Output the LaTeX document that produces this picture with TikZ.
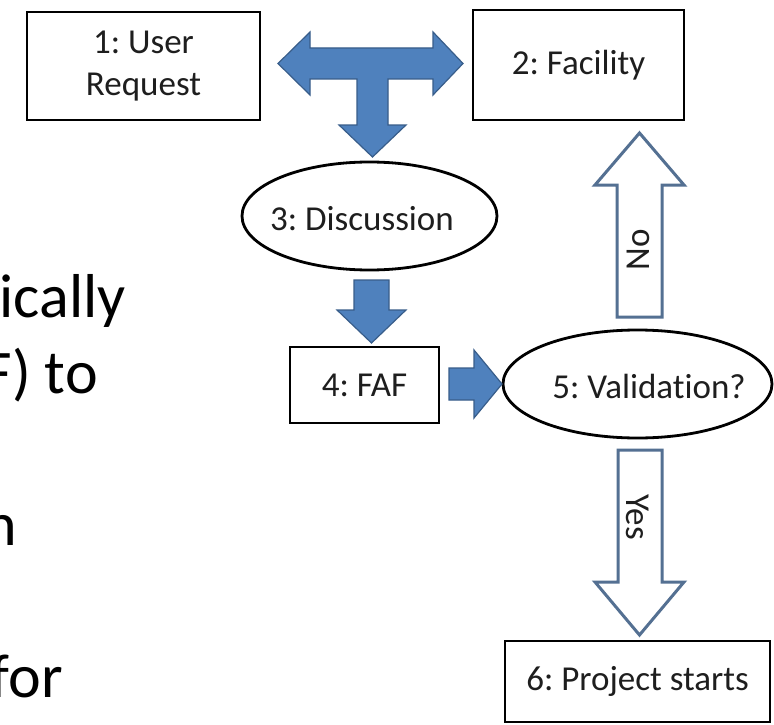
\documentclass[tikz,border=0pt]{standalone}
\usepackage{fontspec}
\setmainfont{Carlito}[Ligatures={NoCommon}]
\usetikzlibrary{shapes.geometric,calc}
\definecolor{bluefill}{RGB}{79,129,189}
\definecolor{blueline}{RGB}{56,93,138}
\definecolor{outl}{RGB}{84,112,146}
\definecolor{txt}{RGB}{30,30,30}
\frenchspacing
\begin{document}
\begin{tikzpicture}[x=1pt,y=-1pt,
  box/.style={draw=black, line width=2.8pt, rectangle, inner sep=0pt,
              font=\fontsize{35}{42}\selectfont, text=txt},
  oval/.style={draw=black, line width=2.8pt, ellipse, inner sep=0pt},
  lbl/.style={font=\fontsize{35}{42}\selectfont, text=txt, inner sep=0pt},
  bigtxt/.style={font=\fontsize{62}{76}\selectfont, text=black, anchor=base east, inner sep=0pt},
  solidarrow/.style={fill=bluefill, draw=blueline, line width=1.2pt, line join=miter},
  hollowarrow/.style={fill=white, draw=outl, line width=3pt, line join=miter}]
\useasboundingbox (0,0) rectangle (774,725);
\clip (0,0) rectangle (774,725);
\fill[white] (0,0) rectangle (774,725);

% cut-off slide text on the left
\node[bigtxt] (t1) at (126,317) {ically};
\node[bigtxt] (t2) at (98,393) {F) to};
\node[bigtxt] (t3) at (17,545) {n};
\node[bigtxt] (t4) at (63,697) {for};

% nodes
\node[box, minimum width=233pt, minimum height=108pt, align=center] (b1) at (143.5,66) {1: User\\Request};
\node[box, minimum width=211pt, minimum height=110pt] (b2) at (578.5,65) {2: Facility};
\node[oval, minimum width=255pt, minimum height=108pt] (e3) at (369.5,216) {};
\node[lbl] (e3t) at (362,219) {3: Discussion};
\node[box, minimum width=149pt, minimum height=76pt] (b4) at (364.5,385) {4: FAF};
\node[oval, minimum width=269pt, minimum height=108pt] (e5) at (637.5,384) {};
\node[lbl] (e5t) at (649,386) {5: Validation?};
\node[box, minimum width=265pt, minimum height=81pt] (b6) at (637.5,681.5) {6: Project starts};

% T-shaped blue arrow between 1, 2 and 3
\path[solidarrow] (278,63.5) -- (310,32) -- (310,48) -- (433,48) -- (433,32) -- (463,63.5)
  -- (433,95) -- (433,79) -- (388,79) -- (388,125) -- (406,125) -- (372.5,157)
  -- (339,125) -- (357,125) -- (357,79) -- (310,79) -- (310,95) -- cycle;

% 3 -> 4
\path[solidarrow] (354,280) -- (389,280) -- (389,310) -- (406,310) -- (371.5,343)
  -- (337,310) -- (354,310) -- cycle;

% 4 -> 5
\path[solidarrow] (449,368) -- (474,368) -- (474,350) -- (502,384) -- (474,418)
  -- (474,400) -- (449,400) -- cycle;

% 5 -> 2 (No)
\path[hollowarrow] (617,317) -- (617,185) -- (595,185) -- (639.5,133) -- (684,185)
  -- (662,185) -- (662,317) -- cycle;
\node[lbl, rotate=90] (no) at (638,250) {No};

% 5 -> 6 (Yes)
\path[hollowarrow] (618,450) -- (618,582) -- (595,582) -- (639.5,635) -- (684,582)
  -- (662,582) -- (662,450) -- cycle;
\node[lbl, rotate=-90] (yes) at (638,517) {Yes};
\end{tikzpicture}
\end{document}
